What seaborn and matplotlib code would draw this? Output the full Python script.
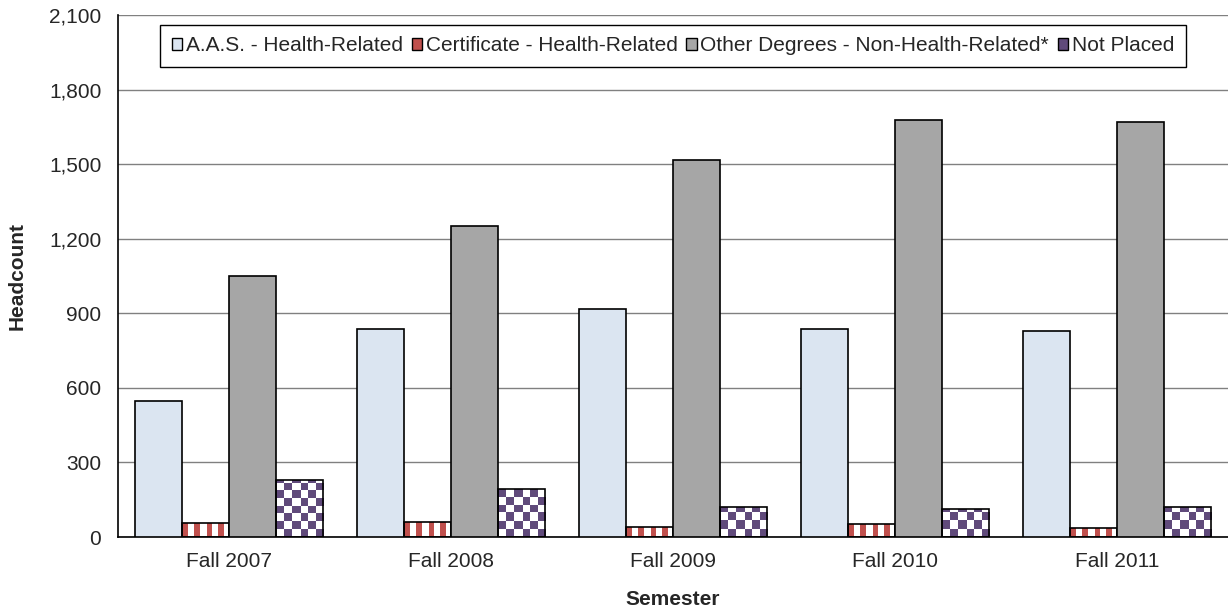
import numpy as np
import pandas as pd
import matplotlib
matplotlib.use("Agg")
import matplotlib.pyplot as plt
import matplotlib.colors as mcolors
from matplotlib.patches import Patch
from matplotlib.ticker import FuncFormatter
import seaborn as sns

# Data
semesters = ["Fall 2007", "Fall 2008", "Fall 2009", "Fall 2010", "Fall 2011"]
series = ["A.A.S. - Health-Related", "Certificate - Health-Related",
          "Other Degrees - Non-Health-Related*", "Not Placed"]
aas_health = [548, 837, 918, 838, 830]
cert_health = [56, 60, 40, 52, 36]
other_degrees = [1050, 1250, 1517, 1678, 1668]
not_placed = [229, 195, 121, 113, 121]

colors = ["#DBE5F1", "#C0504D", "#A6A6A6", "#604A7B"]

df = pd.DataFrame({
    "Semester": np.repeat(semesters, len(series)),
    "Type": series * len(semesters),
    "Headcount": [v for vals in zip(aas_health, cert_health, other_degrees, not_placed) for v in vals],
})

sns.set_style("white")
plt.rcParams["font.family"] = ["Liberation Sans", "DejaVu Sans"]
FS = 15

fig = plt.figure(figsize=(12.28, 6.11), dpi=100)
ax = fig.add_axes([0.0961, 0.1211, 0.9039, 0.8544])

sns.barplot(data=df, x="Semester", y="Headcount", hue="Type", hue_order=series,
            order=semesters, palette=colors, width=0.85, saturation=1,
            edgecolor="black", linewidth=1.2, legend=False, ax=ax, zorder=3)

ax.set_xlim(-0.5, len(semesters) - 0.5)
ax.set_ylim(0, 2100)
ax.set_yticks(np.arange(0, 2101, 300))
ax.yaxis.set_major_formatter(FuncFormatter(lambda v, p: f"{int(v):,}"))
ax.set_xticks(np.arange(len(semesters)))
ax.set_xticklabels(semesters)
ax.set_xticks(np.arange(-0.5, len(semesters)), minor=True)
ax.tick_params(axis="x", which="major", length=0, pad=11, labelsize=FS)
ax.tick_params(axis="x", which="minor", length=4, width=1, color="black", direction="out")
ax.tick_params(axis="y", length=7, width=1, color="black", direction="out", pad=5, labelsize=FS)
ax.grid(axis="y", color="#808080", linewidth=1, zorder=0)
ax.set_axisbelow(True)
for s in ["top", "right"]:
    ax.spines[s].set_visible(False)
for s in ["left", "bottom"]:
    ax.spines[s].set_color("black")
    ax.spines[s].set_linewidth(1.2)

ax.set_xlabel("Semester", fontsize=FS, fontweight="bold")
ax.set_ylabel("Headcount", fontsize=FS, fontweight="bold")
ax.xaxis.set_label_coords(0.5, -0.102)
ax.yaxis.set_label_coords(-0.082, 0.5)


# textures for the hatched series, drawn as images clipped to each bar
def texture(container, kind, color):
    rgb = mcolors.to_rgb(color)
    for bar in container:
        x0, y0 = bar.get_x(), bar.get_y()
        w, h = bar.get_width(), bar.get_height()
        (px0, py0), (px1, py1) = ax.transData.transform([(x0, y0), (x0 + w, y0 + h)])
        nx, ny = max(int(round(px1 - px0)), 1), max(int(round(py1 - py0)), 1)
        cols = np.arange(nx)
        rows = np.arange(ny)[::-1]
        img = np.ones((ny, nx, 3))
        if kind == "stripes":
            mask = np.tile(((cols // 5.8) % 2 == 0), (ny, 1))
        else:
            cell = 7.7
            mask = ((rows[:, None] // cell) + (cols[None, :] // cell)) % 2 == 1
        img[mask] = rgb
        im = ax.imshow(img, extent=(x0, x0 + w, y0, y0 + h), origin="upper",
                       interpolation="nearest", aspect="auto", zorder=2.5)
        im.set_clip_path(bar)
        bar.set_facecolor("none")


texture(ax.containers[1], "stripes", colors[1])
texture(ax.containers[3], "checker", colors[3])
ax.set_xlim(-0.5, len(semesters) - 0.5)
ax.set_ylim(0, 2100)

handles = [Patch(facecolor=c, edgecolor="black", linewidth=1) for c in colors]
leg = ax.legend(handles, series, loc="upper center", bbox_to_anchor=(0.5, 0.981),
                ncol=4, fontsize=FS, frameon=True, fancybox=False, framealpha=1,
                edgecolor="black", handlelength=0.5, handleheight=0.5,
                handletextpad=0.18, columnspacing=0.42, borderpad=0.55,
                borderaxespad=0)
leg.get_frame().set_linewidth(1)
leg.set_zorder(5)

fig.savefig("out.png", dpi=100)
